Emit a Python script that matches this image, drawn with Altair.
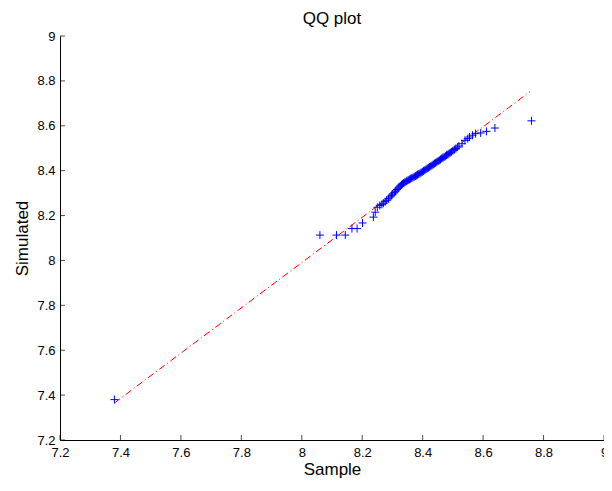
import altair as alt
import pandas as pd

# Sorted sample quantiles (x) and simulated quantiles (y)
sample = [7.38, 8.06, 8.115, 8.144, 8.166, 8.183, 8.201, 8.237, 8.243, 8.25,
          8.258, 8.265, 8.27, 8.276, 8.281, 8.287, 8.292, 8.297, 8.301, 8.306,
          8.31, 8.315, 8.319, 8.322, 8.326, 8.33, 8.333, 8.337, 8.341, 8.345,
          8.348, 8.352, 8.356, 8.36, 8.364, 8.368, 8.372, 8.376, 8.38, 8.383,
          8.387, 8.391, 8.395, 8.399, 8.403, 8.407, 8.411, 8.415, 8.419, 8.423,
          8.427, 8.431, 8.435, 8.439, 8.443, 8.447, 8.451, 8.455, 8.459, 8.463,
          8.467, 8.471, 8.475, 8.479, 8.483, 8.487, 8.491, 8.495, 8.5, 8.505,
          8.51, 8.515, 8.52, 8.53, 8.54, 8.549, 8.555, 8.565, 8.575, 8.592,
          8.611, 8.639, 8.76]
simulated = [7.38, 8.113, 8.113, 8.113, 8.142, 8.142, 8.167, 8.193, 8.215, 8.237,
             8.245, 8.25, 8.255, 8.262, 8.268, 8.275, 8.283, 8.29, 8.296, 8.302,
             8.309, 8.316, 8.322, 8.327, 8.332, 8.337, 8.341, 8.345, 8.349, 8.352,
             8.355, 8.358, 8.361, 8.364, 8.367, 8.37, 8.373, 8.376, 8.379, 8.382,
             8.385, 8.388, 8.392, 8.395, 8.399, 8.402, 8.406, 8.41, 8.413, 8.417,
             8.42, 8.424, 8.428, 8.432, 8.435, 8.439, 8.443, 8.446, 8.45, 8.454,
             8.458, 8.461, 8.465, 8.469, 8.472, 8.476, 8.48, 8.484, 8.489, 8.494,
             8.499, 8.505, 8.51, 8.52, 8.535, 8.543, 8.55, 8.558, 8.565, 8.568,
             8.575, 8.59, 8.622]

# Reference line (through quartiles, extended over the data range)
line_x = [7.38, 8.755]
line_y = [7.365, 8.752]

tick_values = [7.2, 7.4, 7.6, 7.8, 8.0, 8.2, 8.4, 8.6, 8.8, 9.0]

pts = pd.DataFrame({"Sample": sample, "Simulated": simulated})
ln = pd.DataFrame({"Sample": line_x, "Simulated": line_y})
xt = pd.DataFrame({"Sample": tick_values})
yt = pd.DataFrame({"Simulated": tick_values})

xs = alt.Scale(domain=[7.2, 9], nice=False, zero=False)
ys = alt.Scale(domain=[7.2, 9], nice=False, zero=False)

W, H = 544, 404

x_axis = alt.Axis(values=tick_values, format="~g", title="Sample",
                  labelFlush=False, titleY=34, titleBaseline="alphabetic")
y_axis = alt.Axis(values=tick_values, format="~g", title="Simulated",
                  labelFlush=False, titleX=-33, titleBaseline="alphabetic")

plus = "M-1,0L1,0M0,-1L0,1"

points = alt.Chart(pts).mark_point(
    shape=plus, size=64, filled=False, color="#0000ff", strokeWidth=1, opacity=1
).encode(
    x=alt.X("Sample:Q", scale=xs, axis=x_axis),
    y=alt.Y("Simulated:Q", scale=ys, axis=y_axis),
)

line = alt.Chart(ln).mark_line(
    color="#ff0000", strokeWidth=1, strokeDash=[7, 3, 1, 3]
).encode(
    x=alt.X("Sample:Q", scale=xs),
    y=alt.Y("Simulated:Q", scale=ys),
)

xticks = alt.Chart(xt).mark_tick(
    orient="vertical", size=5, thickness=1, color="black"
).encode(
    x=alt.X("Sample:Q", scale=xs),
    y=alt.value(H - 2.5),
)

yticks = alt.Chart(yt).mark_tick(
    orient="horizontal", size=5, thickness=1, color="black"
).encode(
    y=alt.Y("Simulated:Q", scale=ys),
    x=alt.value(2.5),
)

chart = alt.layer(line, points, xticks, yticks).properties(
    width=W,
    height=H,
    title=alt.TitleParams("QQ plot", font="Liberation Sans", fontSize=17,
                          fontWeight="normal", color="black", offset=2),
    autosize=alt.AutoSizeParams(type="none"),
    padding={"left": 52, "top": 28, "right": 0, "bottom": 38},
).configure_view(
    stroke=None
).configure_axis(
    grid=False,
    domainColor="black",
    domainWidth=1,
    tickSize=0,
    labelPadding=6,
    labelFont="Liberation Sans",
    labelFontSize=13,
    labelColor="black",
    titleFont="Liberation Sans",
    titleFontSize=17,
    titleFontWeight="normal",
    titleColor="black",
).configure_axisY(
    labelPadding=5
)

chart.save("out.html", embed_options={"renderer": "svg", "actions": False})
